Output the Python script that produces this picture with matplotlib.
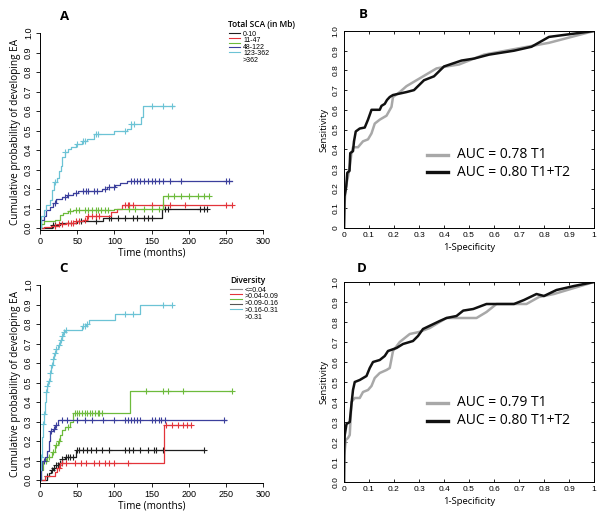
import numpy as np
import matplotlib
matplotlib.use('Agg')
import matplotlib.pyplot as plt
from matplotlib.lines import Line2D

plt.rcParams['font.family'] = ['Liberation Sans', 'DejaVu Sans']

# ---------- panel A: total SCA groups (Kaplan-Meier style cumulative incidence)
sca_labels = ['0-10', '11-47', '48-122', '123-362', '>362']
sca_colors = ['#1e1e1e', '#e3343a', '#6dbb3c', '#3b3f9c', '#6cc3d5']

sca_t = [
    [0, 16, 27, 50, 85, 164, 225],
    [0, 5, 15, 25, 35, 48, 58, 63, 96, 103, 110, 258],
    [0, 2, 5, 20, 27, 31, 38, 45, 100, 166, 228],
    [0, 2, 5, 8, 13, 18, 22, 29, 36, 45, 51, 83, 90, 101, 108, 117, 258],
    [0, 1.5, 5, 8, 13, 16, 19, 23, 26, 28, 30, 33, 37, 42, 48, 56, 63, 73, 100, 117, 122, 136, 138, 180],
]
sca_p = [
    [0, 0.015, 0.025, 0.035, 0.05, 0.10, 0.10],
    [0, 0.005, 0.012, 0.02, 0.027, 0.035, 0.041, 0.06, 0.083, 0.10, 0.12, 0.12],
    [0, 0.02, 0.035, 0.04, 0.065, 0.075, 0.085, 0.095, 0.10, 0.165, 0.165],
    [0, 0.04, 0.06, 0.09, 0.11, 0.13, 0.15, 0.16, 0.172, 0.18, 0.19, 0.20, 0.21, 0.22, 0.23, 0.24, 0.24],
    [0, 0.06, 0.09, 0.12, 0.145, 0.195, 0.235, 0.255, 0.29, 0.32, 0.365, 0.39, 0.405, 0.415, 0.43, 0.445, 0.455, 0.48, 0.50, 0.51, 0.535, 0.57, 0.625, 0.625],
]
sca_cens = [
    [18, 20, 55, 75, 93, 95, 105, 115, 125, 130, 140, 145, 150, 168, 172, 215, 220, 225],
    [20, 25, 30, 38, 42, 45, 48, 52, 60, 65, 70, 75, 80, 115, 118, 120, 125, 150, 165, 175, 195, 250, 258],
    [40, 48, 53, 60, 65, 70, 75, 78, 82, 88, 92, 120, 128, 140, 150, 160, 172, 180, 190, 200, 212, 220, 228],
    [20, 33, 38, 48, 58, 62, 65, 72, 77, 88, 93, 100, 123, 126, 130, 135, 140, 145, 150, 155, 160, 166, 175, 190, 250, 254],
    [20, 34, 50, 58, 60, 75, 78, 115, 123, 126, 150, 165, 178],
]

# ---------- panel C: diversity groups
div_labels = ['<=0.04', '>0.04-0.09', '>0.09-0.16', '>0.16-0.31', '>0.31']
div_colors = ['#1e1e1e', '#e3343a', '#6dbb3c', '#3b3f9c', '#6cc3d5']
div_legend_colors = ['#8c8c8c', '#e3343a', '#6dbb3c', '#555555', '#6cc3d5']

div_t = [
    [0, 9, 12, 15, 18, 21, 25, 29, 33, 48, 220],
    [0, 7, 20, 23, 27, 167, 203],
    [0, 1, 4.5, 9, 16, 20, 24, 27, 29, 33, 40, 44, 121, 258],
    [0, 1, 3, 7, 10, 12, 14, 18, 20, 24, 250],
    [0, 0.5, 1.2, 2.2, 3.5, 5, 6.5, 8, 9.5, 11, 13, 15, 17, 19, 21, 24, 27, 29, 31, 33, 56, 62, 66, 101, 135, 178],
]
div_p = [
    [0, 0.02, 0.035, 0.05, 0.06, 0.075, 0.09, 0.11, 0.12, 0.155, 0.155],
    [0, 0.02, 0.04, 0.06, 0.09, 0.28, 0.28],
    [0, 0.05, 0.10, 0.12, 0.145, 0.18, 0.20, 0.23, 0.255, 0.27, 0.30, 0.345, 0.455, 0.455],
    [0, 0.05, 0.10, 0.12, 0.15, 0.20, 0.25, 0.26, 0.28, 0.31, 0.31],
    [0, 0.05, 0.12, 0.22, 0.29, 0.34, 0.40, 0.45, 0.48, 0.51, 0.55, 0.59, 0.62, 0.65, 0.67, 0.69, 0.72, 0.74, 0.76, 0.77, 0.79, 0.80, 0.82, 0.85, 0.90, 0.90],
]
div_cens = [
    [10, 16, 19, 22, 24, 27, 30, 35, 38, 41, 44, 50, 53, 58, 63, 68, 76, 84, 93, 115, 120, 125, 135, 145, 153, 156, 165, 220],
    [25, 30, 35, 47, 55, 62, 72, 80, 87, 93, 100, 118, 170, 177, 185, 192, 198, 203],
    [8, 12, 18, 22, 25, 38, 47, 50, 53, 57, 60, 63, 67, 70, 74, 78, 80, 83, 142, 165, 172, 193, 258],
    [5, 15, 19, 22, 30, 36, 50, 60, 70, 85, 100, 115, 118, 122, 126, 130, 135, 150, 155, 160, 163, 168, 248],
    [2, 4, 6, 8, 10, 12, 14, 16, 18, 20, 22, 26, 28, 30, 32, 35, 58, 60, 63, 115, 125, 165, 178],
]

# ---------- panels B and D: ROC curves
rocB_t1_x = [0, 0.002, 0.007, 0.016, 0.023, 0.03, 0.036, 0.056, 0.076, 0.096, 0.11, 0.123, 0.143, 0.17, 0.19, 0.196, 0.223, 0.25, 0.29, 0.33, 0.37, 0.41, 0.46, 0.5, 0.56, 0.69, 0.82, 1.0]
rocB_t1_y = [0, 0.12, 0.21, 0.26, 0.31, 0.38, 0.41, 0.41, 0.44, 0.45, 0.48, 0.53, 0.55, 0.57, 0.615, 0.665, 0.69, 0.72, 0.75, 0.78, 0.81, 0.82, 0.83, 0.85, 0.88, 0.91, 0.94, 1.0]
rocB_t12_x = [0, 0.002, 0.009, 0.013, 0.022, 0.025, 0.036, 0.04, 0.047, 0.063, 0.083, 0.096, 0.11, 0.143, 0.15, 0.163, 0.172, 0.183, 0.196, 0.25, 0.28, 0.32, 0.36, 0.4, 0.47, 0.52, 0.58, 0.68, 0.75, 0.82, 0.88, 1.0]
rocB_t12_y = [0, 0.16, 0.21, 0.28, 0.29, 0.38, 0.39, 0.44, 0.49, 0.505, 0.51, 0.55, 0.60, 0.60, 0.62, 0.63, 0.65, 0.665, 0.675, 0.69, 0.70, 0.75, 0.77, 0.82, 0.85, 0.86, 0.88, 0.90, 0.92, 0.97, 0.98, 1.0]

rocD_t1_x = [0, 0.001, 0.007, 0.016, 0.023, 0.03, 0.043, 0.063, 0.076, 0.096, 0.11, 0.123, 0.143, 0.17, 0.183, 0.196, 0.223, 0.263, 0.3, 0.343, 0.383, 0.41, 0.53, 0.57, 0.61, 0.68, 0.73, 0.78, 0.84, 0.92, 1.0]
rocD_t1_y = [0, 0.13, 0.21, 0.22, 0.235, 0.40, 0.42, 0.42, 0.45, 0.46, 0.48, 0.52, 0.545, 0.56, 0.57, 0.655, 0.70, 0.74, 0.75, 0.77, 0.80, 0.82, 0.82, 0.85, 0.89, 0.89, 0.89, 0.925, 0.94, 0.97, 1.0]
rocD_t12_x = [0, 0.001, 0.003, 0.01, 0.023, 0.03, 0.036, 0.043, 0.063, 0.09, 0.103, 0.116, 0.143, 0.163, 0.176, 0.21, 0.236, 0.276, 0.296, 0.316, 0.383, 0.41, 0.45, 0.477, 0.517, 0.57, 0.62, 0.68, 0.72, 0.77, 0.8, 0.85, 0.92, 1.0]
rocD_t12_y = [0, 0.17, 0.235, 0.29, 0.30, 0.39, 0.46, 0.50, 0.51, 0.53, 0.57, 0.60, 0.61, 0.63, 0.655, 0.67, 0.69, 0.705, 0.73, 0.765, 0.805, 0.82, 0.83, 0.857, 0.865, 0.89, 0.89, 0.89, 0.91, 0.94, 0.93, 0.96, 0.98, 1.0]

aucB = ['AUC = 0.78 T1', 'AUC = 0.80 T1+T2']
aucD = ['AUC = 0.79 T1', 'AUC = 0.80 T1+T2']

W, H = 605, 524


def rect(left, top, right, bottom):
    return [left / W, 1 - bottom / H, (right - left) / W, (bottom - top) / H]


fig = plt.figure(figsize=(6.05, 5.24), dpi=100)

label_font = ['Open Sans', 'DejaVu Sans']


def km_panel(ax, ts, ps, cens, colors, ymin):
    for t, p, c, col in zip(ts, ps, cens, colors):
        ax.step(t, p, where='post', color=col, lw=0.9)
        idx = np.searchsorted(t, c, side='right') - 1
        cy = np.array(p)[idx]
        ax.plot(c, cy, ls='none', marker='+', ms=4, mew=0.8, color=col)
    ax.set_xlim(0, 300)
    ax.set_ylim(ymin, 1.0)
    ax.spines['top'].set_visible(False)
    ax.spines['right'].set_visible(False)
    ax.spines['left'].set_linewidth(0.7)
    ax.spines['bottom'].set_linewidth(0.7)
    ax.set_xticks(np.arange(0, 301, 50))
    ax.set_yticks(np.round(np.arange(0, 1.01, 0.1), 1))
    ax.set_yticklabels(['%.1f' % v for v in np.arange(0, 1.01, 0.1)], rotation=90, va='center')
    ax.tick_params(labelsize=6.5, length=3, width=0.6, pad=2)
    ax.set_xlabel('Time (months)', fontsize=7.2, family=label_font, labelpad=1)
    ax.set_ylabel('Cumulative probability of developing EA', fontsize=7.2, family=label_font, labelpad=2)


def roc_panel(ax, lines, labels, first_label, leg_y):
    for (x, y, col), lab in zip(lines, labels):
        ax.plot(x, y, color=col, lw=1.8, solid_joinstyle='round')
    ax.set_xlim(0, 1)
    ax.set_ylim(0, 1)
    ticks = np.round(np.arange(0, 1.01, 0.1), 1)
    ax.set_xticks(ticks)
    ax.set_yticks(ticks)
    ax.set_xticklabels(['0'] + ['%.1f' % v for v in ticks[1:-1]] + ['1'])
    ax.set_yticklabels([first_label] + ['%.1f' % v for v in ticks[1:]], rotation=90, va='center')
    ax.tick_params(direction='in', top=True, right=True, labelsize=6, length=2.5, width=0.6, pad=3)
    for s in ax.spines.values():
        s.set_linewidth(0.7)
    ax.set_xlabel('1-Specificity', fontsize=6.8, family=label_font, labelpad=3)
    ax.set_ylabel('Sensitivity', fontsize=6.8, family=label_font, labelpad=3)
    for (x, y, col), lab, ly in zip(lines, labels, leg_y):
        ax.plot([0.332, 0.416], [ly, ly], color=col, lw=2.4, transform=ax.transAxes)
        ax.text(0.452, ly, lab, fontsize=10, family=label_font, va='center', transform=ax.transAxes)


def fig_legend(title, labels, colors, title_xy, row0, step, line_x, text_x):
    fig.text(title_xy[0] / W, 1 - title_xy[1] / H, title, fontsize=6, family=label_font,
             weight='semibold', va='center')
    for k, col in enumerate(colors):
        ry = row0 + k * step
        fig.add_artist(Line2D([line_x[0] / W, line_x[1] / W], [1 - ry / H, 1 - ry / H],
                              color=col, lw=0.8, transform=fig.transFigure))
    # one multi-line text block so the tightly packed rows do not collide
    fs = 5.0
    asc = 0.74 * fs * 100 / 72
    fig.text(text_x / W, 1 - (row0 + 2.5 - asc) / H, '\n'.join(labels), fontsize=fs,
             va='top', linespacing=step / asc)


axA = fig.add_axes(rect(40, 33, 263, 230))
km_panel(axA, sca_t, sca_p, sca_cens, sca_colors, -0.01)
axC = fig.add_axes(rect(40, 285, 263, 483))
km_panel(axC, div_t, div_p, div_cens, div_colors, -0.015)

axB = fig.add_axes(rect(344, 31, 594, 228))
roc_panel(axB, [(rocB_t1_x, rocB_t1_y, '#a8a8a8'), (rocB_t12_x, rocB_t12_y, '#111111')],
          aucB, '0', [0.371, 0.284])
axD = fig.add_axes(rect(344, 282, 594, 482))
roc_panel(axD, [(rocD_t1_x, rocD_t1_y, '#a8a8a8'), (rocD_t12_x, rocD_t12_y, '#111111')],
          aucD, '0.0', [0.395, 0.305])

fig_legend('Total SCA (in Mb)', sca_labels, sca_colors, (228, 24.5), 33.3, 4.6, (229, 240), 243)
fig_legend('Diversity', div_labels, div_legend_colors, (230, 280.5), 289.3, 4.9, (230, 242), 245)

for lab, x, y in [('A', 65, 17), ('B', 363, 15), ('C', 63, 268), ('D', 362, 268)]:
    fig.text(x / W, 1 - y / H, lab, fontsize=9.5, weight='bold', family=label_font,
             ha='center', va='center')

fig.savefig('out.png', dpi=100)
